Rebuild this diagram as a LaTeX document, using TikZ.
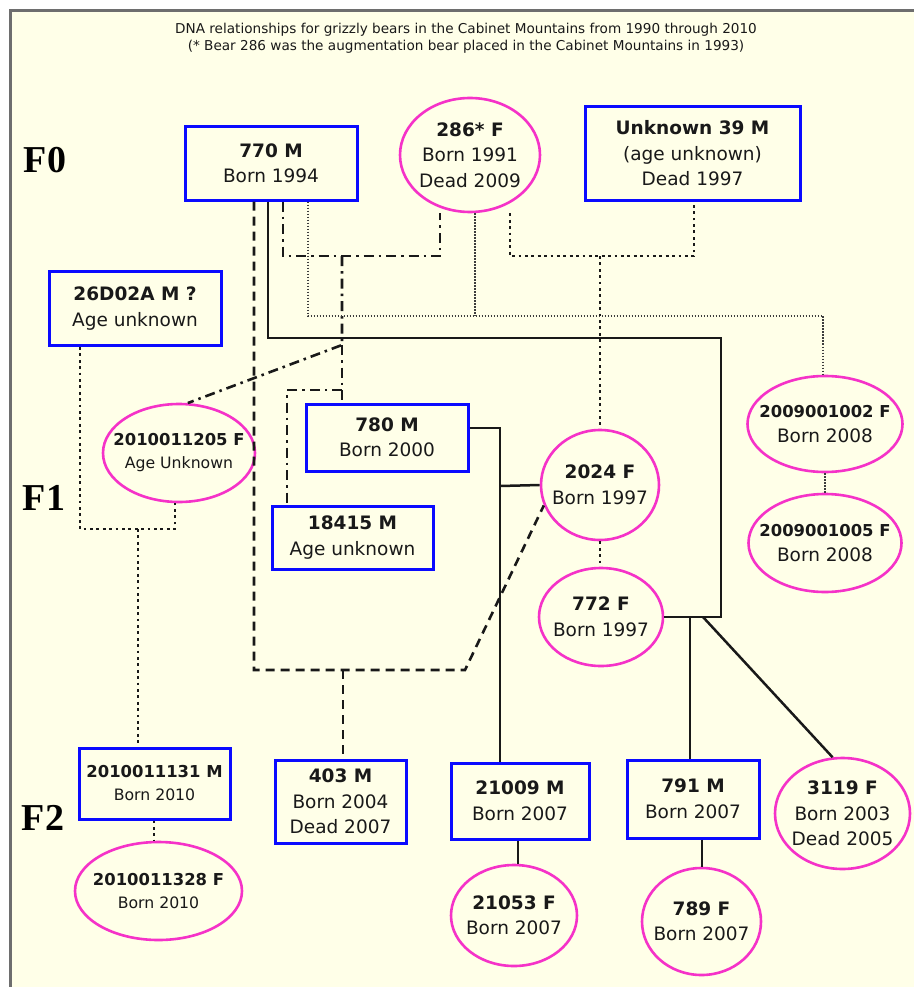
\documentclass[tikz,border=0pt]{standalone}
\usepackage{fontspec}
\setmainfont{DejaVu Sans}
\newfontfamily\lblfont{Liberation Serif}
\usetikzlibrary{shapes.geometric}
\definecolor{bgyellow}{RGB}{255,255,232}
\definecolor{framegray}{RGB}{110,110,110}
\definecolor{boxblue}{RGB}{10,10,255}
\definecolor{femalepink}{RGB}{245,50,200}
\definecolor{ink}{RGB}{25,25,25}
\tikzset{
  male/.style={draw=boxblue, line width=3pt, rectangle, align=center, inner sep=0pt, text=ink,
    font=\fontsize{18.5}{25.5}\selectfont},
  female/.style={draw=femalepink, line width=2.6pt, ellipse, align=center, inner xsep=-40pt, inner ysep=-30pt, text=ink,
    font=\fontsize{18.5}{25.5}\selectfont},
  gen/.style={font=\lblfont\bfseries\fontsize{38}{38}\selectfont, inner sep=0pt},
  solidline/.style={draw=ink, line width=2.5pt},
  dashline/.style={draw=ink, line width=2.6pt, dash pattern=on 9pt off 6pt},
  dashdotline/.style={draw=ink, line width=2.6pt, dash pattern=on 10pt off 5pt on 2.5pt off 5pt},
  dotthick/.style={draw=ink, line width=2.8pt, dash pattern=on 2.8pt off 3.6pt},
  dotthin/.style={draw=ink!85, line width=1.6pt, dash pattern=on 1.4pt off 1.6pt},
}
\begin{document}
\begin{tikzpicture}[x=1pt,y=-1pt]
\useasboundingbox (0,0) rectangle (914,987);
\fill[white] (0,0) rectangle (914,987);
\fill[bgyellow] (10,10) rectangle (914,987);
\draw[framegray, line width=3pt] (10.5,987) -- (10.5,10.5) -- (914,10.5);

% title
\node[align=center, text=ink, font=\fontsize{13.6}{17}\selectfont, inner sep=0pt] (title) at (466,38.5)
  {DNA relationships for grizzly bears in the Cabinet Mountains from 1990 through 2010\\
   (* Bear 286 was the augmentation bear placed in the Cabinet Mountains in 1993)};

% generation labels
\node[gen] (F0) at (45,160) {F0};
\node[gen] (F1) at (44,498) {F1};
\node[gen] (F2) at (43,818) {F2};

% F0
\node[male, minimum width=172pt, minimum height=73pt] (n770) at (271,163.5) {\textbf{770 M}\\Born 1994};
\node[female, minimum width=140pt, minimum height=114pt] (n286) at (470,155) {\textbf{286* F}\\Born 1991\\Dead 2009};
\node[male, minimum width=215pt, minimum height=93pt] (nU39) at (692.5,153.5) {\textbf{Unknown 39 M}\\(age unknown)\\Dead 1997};

% F1
\node[male, minimum width=172pt, minimum height=74pt] (n26) at (135,308.5) {\textbf{26D02A M ?}\\Age unknown};
\node[female, minimum width=152pt, minimum height=98pt, font=\fontsize{16}{23}\selectfont] (n205) at (179,453)
  {\textbf{\fontsize{16.4}{23}\selectfont 2010011205 F}\\{\fontsize{15.7}{23}\selectfont Age Unknown}};
\node[male, minimum width=162pt, minimum height=67pt] (n780) at (387,437.5) {\textbf{780 M}\\Born 2000};
\node[male, minimum width=161pt, minimum height=63pt] (n18415) at (352.5,537.5) {\textbf{18415 M}\\Age unknown};
\node[female, minimum width=118pt, minimum height=110pt] (n2024) at (600,485) {\textbf{2024 F}\\Born 1997};
\node[female, minimum width=124pt, minimum height=98pt] (n772) at (601,617) {\textbf{772 F}\\Born 1997};
\node[female, minimum width=155pt, minimum height=96pt] (n002) at (825,424)
  {\textbf{\fontsize{16.4}{25}\selectfont 2009001002 F}\\Born 2008};
\node[female, minimum width=153pt, minimum height=98pt] (n005) at (825,543)
  {\textbf{\fontsize{16.4}{25}\selectfont 2009001005 F}\\Born 2008};

% F2
\node[male, minimum width=151pt, minimum height=71pt, font=\fontsize{16}{23}\selectfont] (n131) at (154.5,783.5)
  {\textbf{\fontsize{16.4}{23}\selectfont 2010011131 M}\\{\fontsize{15.7}{23}\selectfont Born 2010}};
\node[female, minimum width=167pt, minimum height=98pt, font=\fontsize{16}{23}\selectfont] (n328) at (158.5,891)
  {\textbf{\fontsize{16.4}{23}\selectfont 2010011328 F}\\{\fontsize{15.7}{23}\selectfont Born 2010}};
\node[male, minimum width=131pt, minimum height=83pt] (n403) at (340.5,801.5) {\textbf{403 M}\\Born 2004\\Dead 2007};
\node[male, minimum width=138pt, minimum height=76pt] (n21009) at (520,801) {\textbf{21009 M}\\Born 2007};
\node[female, minimum width=126pt, minimum height=101pt] (n21053) at (514,915.5) {\textbf{21053 F}\\Born 2007};
\node[male, minimum width=132pt, minimum height=78pt] (n791) at (693,799) {\textbf{791 M}\\Born 2007};
\node[female, minimum width=119pt, minimum height=107pt] (n789) at (701.5,921.5) {\textbf{789 F}\\Born 2007};
\node[female, minimum width=135pt, minimum height=111pt] (n3119) at (842.5,813.5) {\textbf{3119 F}\\Born 2003\\Dead 2005};

% junction coordinates
\coordinate (jSolid) at (721,617);
\coordinate (j780) at (500,486);
\coordinate (jDash) at (343,670);
\coordinate (jDD) at (342,256);
\coordinate (jDD2) at (342,345);
\coordinate (jDD3) at (342,390);
\coordinate (jThin) at (475,316);
\coordinate (jDot) at (600,256);
\coordinate (jLeft) at (138,529);

% solid: 770 x 772
\draw[solidline] (268,0 |- n770.south) -- (268,338) -- (721,338) -- (jSolid) -- (n772.east);
\draw[solidline] (690,617) -- (690,0 |- n791.north);
\draw[solidline] (703,617) -- (n3119.100);
% solid: 780 x 2024
\draw[solidline] (n780.east |- 0,428) -- (500,428) -- (500,0 |- n21009.north);
\draw[solidline] (j780) -- (n2024.west);
\draw[solidline] (518,0 |- n21009.south) -- (518,0 |- n21053.north);
\draw[solidline] (702,0 |- n791.south) -- (702,0 |- n789.north);

% dashed: 770 x 2024 -> 403
\draw[dashline] (254,0 |- n770.south) -- (254,670) -- (465,670) -- (n2024.200);
\draw[dashline] (jDash) -- (343,0 |- n403.north);

% dash-dot: 770 x 286 -> 2010011205, 780, 18415
\draw[dashdotline] (283,0 |- n770.south) -- (283,256) -- (440,256) -- (440,0 |- n286.south);
\draw[dashdotline] (jDD) -- (jDD2) -- (n205.80);
\draw[dashdotline] (jDD2) -- (342,0 |- n780.north);
\draw[dashdotline] (jDD3) -- (287,390) -- (287,0 |- n18415.north);

% thin dotted: 770 x 286 -> 2009001002
\draw[dotthin] (308,0 |- n770.south) -- (308,316) -- (823,316) -- (823,0 |- n002.north);
\draw[dotthin] (475,0 |- n286.south) -- (jThin);
\draw[dotthin] (n002.south) -- (n005.north);

% thick dotted: 286 x Unknown 39 -> 2024
\draw[dotthick] (510,0 |- n286.south) -- (510,256) -- (694,256) -- (694,0 |- nU39.south);
\draw[dotthick] (jDot) -- (600,0 |- n2024.north);
\draw[dotthick] (600,0 |- n2024.south) -- (600,0 |- n772.north);

% thick dotted: 26D02A x 2010011205 -> 2010011131
\draw[dotthick] (80,0 |- n26.south) -- (80,529) -- (175,529) -- (175,0 |- n205.south);
\draw[dotthick] (jLeft) -- (138,0 |- n131.north);
\draw[dotthick] (154,0 |- n131.south) -- (154,0 |- n328.north);
\end{tikzpicture}
\end{document}
